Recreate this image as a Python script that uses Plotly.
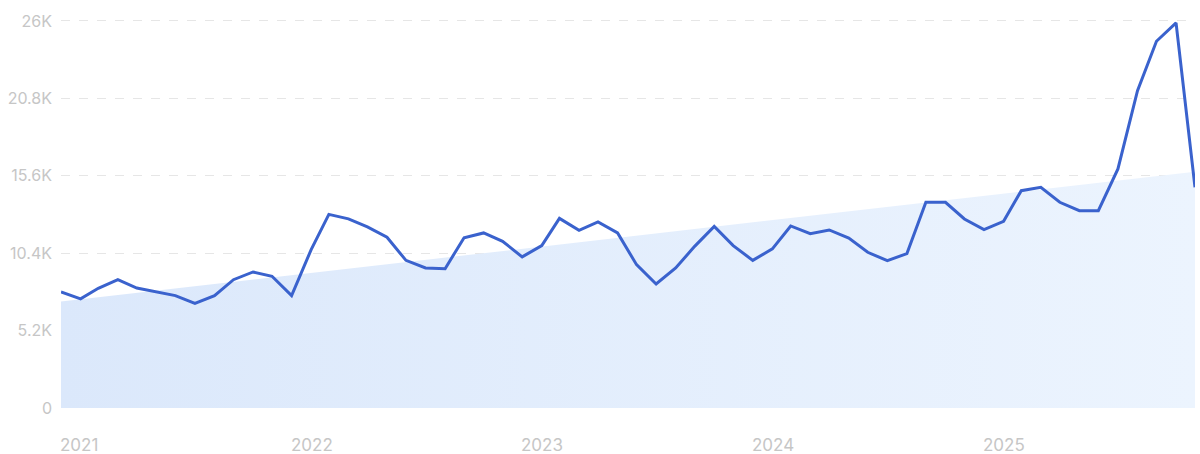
import pandas as pd
import plotly.graph_objects as go

# Monthly values (thousands), Jan 2021 .. Dec 2025
months = pd.date_range("2021-01-01", periods=60, freq="MS")
values_k = [
    7.80, 7.33, 8.04, 8.62, 8.06, 7.80, 7.55, 7.03, 7.55, 8.62, 9.14, 8.85,
    7.55, 10.64, 13.01, 12.71, 12.17, 11.47, 9.92, 9.41, 9.36, 11.44, 11.76, 11.20,
    10.15, 10.91, 12.74, 11.94, 12.50, 11.76, 9.63, 8.33, 9.41, 10.86, 12.20, 10.91,
    9.92, 10.69, 12.23, 11.71, 11.96, 11.42, 10.46, 9.90, 10.37, 13.82, 13.82, 12.70,
    11.98, 12.54, 14.60, 14.83, 13.82, 13.26, 13.26, 16.06, 21.32, 24.64, 25.87, 14.83,
]
values = [v * 1000 for v in values_k]

# Trend band end points
trend_x = [months[0], months[-1]]
trend_y = [7150, 15870]

y_tickvals = [0, 5200, 10400, 15600, 20800, 26000]
y_ticktext = ["0", "5.2K", "10.4K", "15.6K", "20.8K", "26K"]
year_labels = ["2021", "2022", "2023", "2024", "2025"]
year_dates = ["2021-01-01", "2022-01-01", "2023-01-01", "2024-01-01", "2025-01-01"]

fig = go.Figure()
fig.add_trace(go.Scatter(
    x=trend_x, y=trend_y, mode="lines", line=dict(width=0),
    fill="tozeroy",
    fillgradient=dict(type="horizontal",
                      colorscale=[[0, "#dbe8fb"], [1, "#ecf4fe"]]),
    hoverinfo="skip", showlegend=False,
))
fig.add_trace(go.Scatter(
    x=months, y=values, mode="lines",
    line=dict(color="#3a62cd", width=3),
    showlegend=False, cliponaxis=True,
))

for lab, d in zip(year_labels, year_dates):
    fig.add_annotation(
        x=d, y=0, xref="x", yref="paper", text=lab, showarrow=False,
        xanchor="left", yanchor="middle", yshift=-37, xshift=-3,
        font=dict(size=17, color="#c6c6c6", family="Inter"),
    )

fig.update_layout(
    width=1200, height=454,
    margin=dict(l=61, r=5, t=19, b=46),
    paper_bgcolor="white", plot_bgcolor="white",
    font=dict(family="Inter", size=16, color="#c6c6c6"),
)
fig.update_xaxes(
    range=[months[0], months[-1]], showgrid=False, showticklabels=False,
    zeroline=False, showline=False, ticks="",
)
fig.update_yaxes(
    range=[0, 26134], tickvals=y_tickvals, ticktext=y_ticktext,
    showgrid=True, gridcolor="#e6e6e6", griddash="dash", gridwidth=1,
    zeroline=False, showline=False, ticks="", ticklabelstandoff=8,
    tickfont=dict(size=16, color="#c6c6c6", family="Inter"),
)

fig.write_html(
    "out.html",
    config={"displayModeBar": False},
    post_script="document.body.style.margin='0';document.body.style.overflow='hidden';",
)
